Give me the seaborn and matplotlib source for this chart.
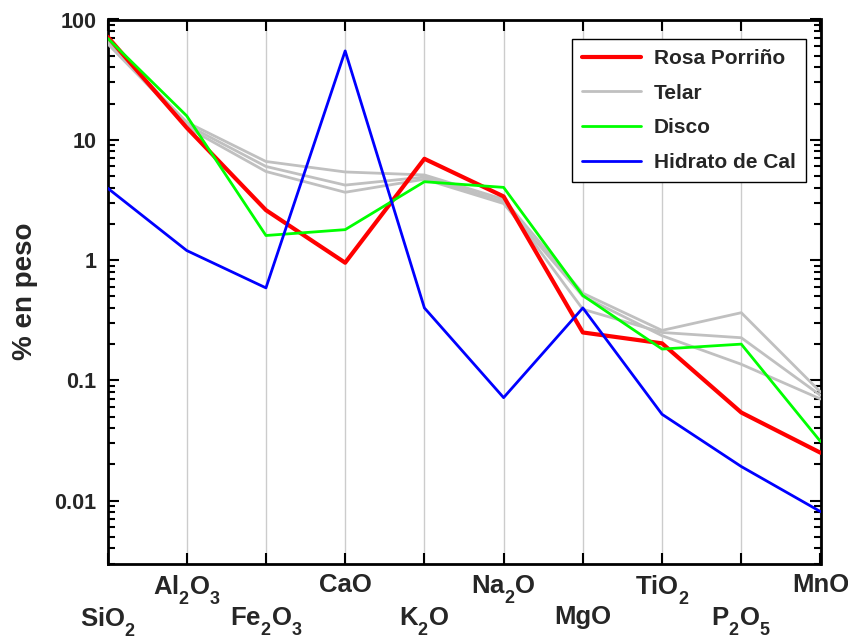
import numpy as np
import pandas as pd
import matplotlib
matplotlib.use("Agg")
import matplotlib.pyplot as plt
import matplotlib._mathtext as _mt
import seaborn as sns
from matplotlib.lines import Line2D
from matplotlib.ticker import LogLocator, NullFormatter

# ---- data ----
oxides = ['SiO$_2$', 'Al$_2$O$_3$', 'Fe$_2$O$_3$', 'CaO', 'K$_2$O',
          'Na$_2$O', 'MgO', 'TiO$_2$', 'P$_2$O$_5$', 'MnO']
rosa_porrino = [72, 12.6, 2.6, 0.95, 6.95, 3.38, 0.25, 0.203, 0.054, 0.025]
telar_1 = [66, 14.0, 6.6, 5.4, 5.1, 3.2, 0.53, 0.26, 0.365, 0.080]
telar_2 = [63, 13.3, 6.0, 4.2, 4.9, 3.05, 0.39, 0.25, 0.226, 0.075]
telar_3 = [68, 12.7, 5.45, 3.66, 4.7, 2.95, 0.50, 0.235, 0.136, 0.070]
disco = [70, 15.8, 1.6, 1.79, 4.48, 4.02, 0.507, 0.182, 0.20, 0.031]
hidrato_cal = [3.97, 1.2, 0.587, 54.8, 0.40, 0.0718, 0.40, 0.0522, 0.0192, 0.0081]
ytick_vals = [0.01, 0.1, 1, 10, 100]
ytick_labels = ['0.01', '0.1', '1', '10', '100']
series_names = ['Rosa Porriño', 'Telar', 'Disco', 'Hidrato de Cal']
colors = {'Rosa Porriño': '#ff0000', 'Telar': '#c0c0c0',
          'Disco': '#00ff00', 'Hidrato de Cal': '#0000ff'}
widths = {'Rosa Porriño': 3.0, 'Telar': 2.0, 'Disco': 2.0, 'Hidrato de Cal': 2.0}

pos = np.arange(len(oxides))

# lower the chemical-formula subscripts a bit more than the mathtext default
try:
    _mt.FontConstantsBase.sub1 = 0.75
    _mt.FontConstantsBase.sub2 = 0.75
except Exception:
    pass

sns.set_theme(style="white")
plt.rcParams['font.family'] = ['Liberation Sans', 'DejaVu Sans']
plt.rcParams['font.weight'] = 'bold'
plt.rcParams['mathtext.fontset'] = 'custom'
for k in ['rm', 'it', 'bf', 'sf']:
    plt.rcParams['mathtext.' + k] = 'Liberation Sans:bold'
plt.rcParams['mathtext.default'] = 'bf'

fig = plt.figure(figsize=(8.48, 6.41), dpi=100)
ax = fig.add_axes([107.5 / 848, 1 - 563.5 / 641, 713 / 848, 544 / 641])

df_telar = pd.DataFrame({
    'pos': np.concatenate([pos, pos, pos]),
    'val': telar_1 + telar_2 + telar_3,
    'muestra': ['t1'] * 10 + ['t2'] * 10 + ['t3'] * 10,
})
sns.lineplot(data=df_telar, x='pos', y='val', units='muestra', estimator=None,
             color=colors['Telar'], lw=widths['Telar'], ax=ax, legend=False, zorder=3)
for name, vals, z in [('Rosa Porriño', rosa_porrino, 4), ('Disco', disco, 5),
                      ('Hidrato de Cal', hidrato_cal, 6)]:
    sns.lineplot(x=pos, y=vals, color=colors[name], lw=widths[name], ax=ax,
                 legend=False, zorder=z)

ax.set_yscale('log')
ax.set_ylim(0.003, 100)
ax.set_xlim(0, 9)
ax.set_yticks(ytick_vals)
ax.set_yticklabels(ytick_labels)
ax.yaxis.set_minor_locator(LogLocator(base=10, subs=np.arange(2, 10)))
ax.yaxis.set_minor_formatter(NullFormatter())
ax.set_xticks(pos)
ax.set_xticklabels(oxides)
ax.set_xlabel('')
ax.set_ylabel('% en peso', fontsize=20, fontweight='bold')
ax.yaxis.set_label_coords(-0.097, 0.5)

ax.tick_params(axis='both', which='major', direction='in', length=8, width=1.5,
               top=True, right=True, bottom=True, left=True, color='black')
ax.tick_params(axis='y', which='major', labelsize=15.5, pad=8)
ax.tick_params(axis='y', which='minor', direction='in', length=5, width=1.5,
               left=True, right=True, color='black')
ax.tick_params(axis='x', which='major', labelsize=18.5)
for i, t in enumerate(ax.xaxis.get_major_ticks()):
    t.set_pad(30 if i % 2 == 0 else 7)

ax.xaxis.grid(True, color='#cccccc', lw=1)
ax.yaxis.grid(False)
ax.set_axisbelow(True)
for s in ax.spines.values():
    s.set_color('black')
    s.set_linewidth(2)

handles = [Line2D([], [], color=colors[n], lw=widths[n]) for n in series_names]
leg = ax.legend(handles, series_names, loc='upper right', bbox_to_anchor=(0.98, 0.965),
                borderaxespad=0, frameon=True, fancybox=False, framealpha=1,
                edgecolor='black', fontsize=15, handlelength=2.85, handletextpad=0.6,
                labelspacing=0.75, borderpad=0.5)
leg.get_frame().set_linewidth(1)
for txt in leg.get_texts():
    txt.set_fontweight('bold')

fig.savefig('out.png', dpi=100)
